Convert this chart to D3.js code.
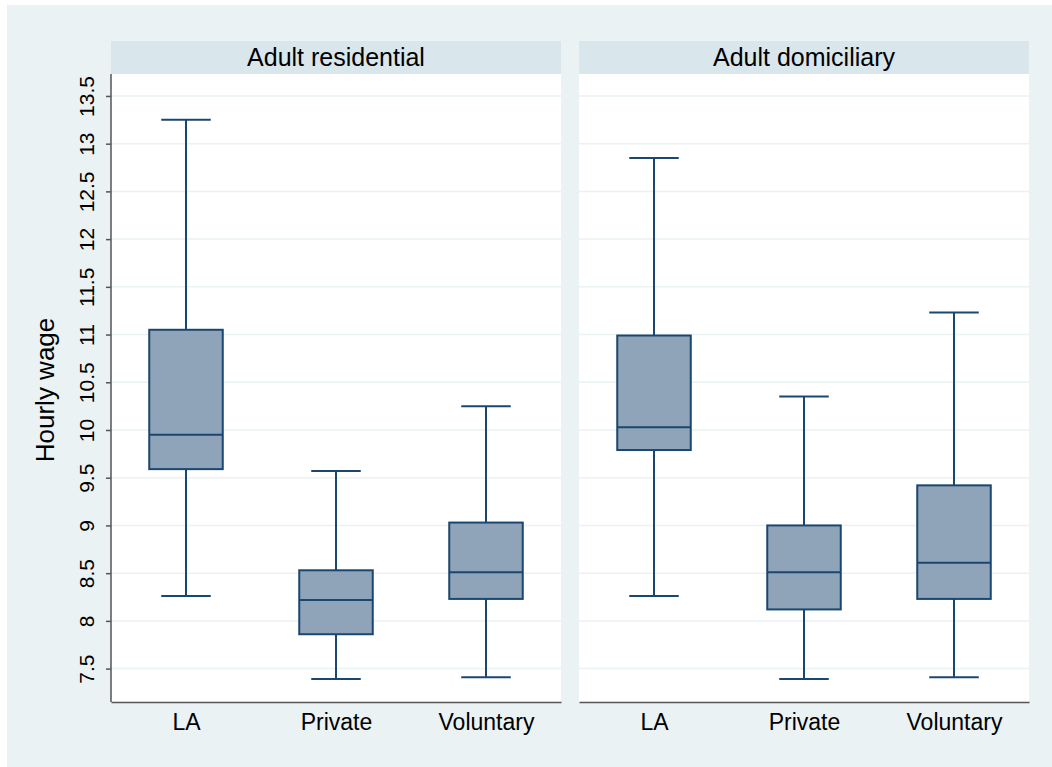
<!DOCTYPE html>
<html>
<head>
<meta charset="utf-8">
<script src="https://cdn.jsdelivr.net/npm/d3@7"></script>
<style>
  body { margin: 0; background: #fff; }
  text { font-family: "Liberation Sans", Arial, sans-serif; fill: #000; }
</style>
</head>
<body>
<div id="chart"></div>
<script>
// panels and categories
var panels = ["Adult residential", "Adult domiciliary"];
var sectors = ["LA", "Private", "Voluntary"];
var yTicks = [7.5, 8, 8.5, 9, 9.5, 10, 10.5, 11, 11.5, 12, 12.5, 13, 13.5];

// box stats per panel, in sector order: [lower whisker, q1, median, q3, upper whisker]
var residentialStats = [
    [8.26, 9.59, 9.95, 11.05, 13.25],
    [7.39, 7.86, 8.22, 8.53, 9.57],
    [7.41, 8.23, 8.51, 9.03, 10.25]
];
var domiciliaryStats = [
    [8.26, 9.79, 10.03, 10.99, 12.85],
    [7.39, 8.12, 8.51, 9.00, 10.35],
    [7.41, 8.23, 8.61, 9.42, 11.23]
];

var chart = {
    svgWidth: 1052,
    svgHeight: 767,
    panelLeft: [111, 579],
    panelWidth: 450,
    stripTop: 41,
    plotTop: 74,
    plotBottom: 702,
    navy: "#1a476f",
    boxFill: "#8fa4b8",
    bg: "#eaf2f3",
    strip: "#d9e6eb"
};

var svg = d3.select("#chart").append("svg")
    .attr("width", chart.svgWidth)
    .attr("height", chart.svgHeight);

// outer graph region
svg.append("rect")
    .attr("x", 7).attr("y", 5)
    .attr("width", chart.svgWidth - 7)
    .attr("height", chart.svgHeight - 5)
    .attr("fill", chart.bg);

var yScale = d3.scaleLinear()
    .domain([7.15, 13.73])
    .range([chart.plotBottom, chart.plotTop]);

var xScale = d3.scalePoint()
    .domain(sectors)
    .range([0, chart.panelWidth])
    .padding(0.5);

var step = xScale.step();
var boxW = step * 0.49;
var capW = step * 0.33;

var allStats = [residentialStats, domiciliaryStats];

panels.forEach(function(name, p) {
    var g = svg.append("g")
        .attr("transform", "translate(" + chart.panelLeft[p] + ",0)");

    // strip header
    g.append("rect")
        .attr("x", 0).attr("y", chart.stripTop)
        .attr("width", chart.panelWidth)
        .attr("height", chart.plotTop - chart.stripTop)
        .attr("fill", chart.strip);
    g.append("text")
        .attr("x", chart.panelWidth / 2)
        .attr("y", chart.stripTop + 25)
        .attr("text-anchor", "middle")
        .style("font-size", "25px")
        .text(name);

    // plot region
    g.append("rect")
        .attr("x", 0).attr("y", chart.plotTop)
        .attr("width", chart.panelWidth)
        .attr("height", chart.plotBottom - chart.plotTop)
        .attr("fill", "#fff");

    // gridlines
    g.selectAll("line.grid").data(yTicks).enter().append("line")
        .attr("class", "grid")
        .attr("x1", 0).attr("x2", chart.panelWidth)
        .attr("y1", d => yScale(d)).attr("y2", d => yScale(d))
        .attr("stroke", chart.bg)
        .attr("stroke-width", 1.5);

    var data = allStats[p].map(function(s, i) {
        return {sector: sectors[i], lo: s[0], q1: s[1], med: s[2], q3: s[3], hi: s[4]};
    });

    var boxes = g.selectAll("g.box").data(data).enter().append("g")
        .attr("class", "box")
        .attr("transform", d => "translate(" + xScale(d.sector) + ",0)");

    // whiskers
    boxes.append("line")
        .attr("x1", 0).attr("x2", 0)
        .attr("y1", d => yScale(d.hi)).attr("y2", d => yScale(d.q3))
        .attr("stroke", chart.navy).attr("stroke-width", 2);
    boxes.append("line")
        .attr("x1", 0).attr("x2", 0)
        .attr("y1", d => yScale(d.q1)).attr("y2", d => yScale(d.lo))
        .attr("stroke", chart.navy).attr("stroke-width", 2);
    boxes.append("line")
        .attr("x1", -capW / 2).attr("x2", capW / 2)
        .attr("y1", d => yScale(d.hi)).attr("y2", d => yScale(d.hi))
        .attr("stroke", chart.navy).attr("stroke-width", 2);
    boxes.append("line")
        .attr("x1", -capW / 2).attr("x2", capW / 2)
        .attr("y1", d => yScale(d.lo)).attr("y2", d => yScale(d.lo))
        .attr("stroke", chart.navy).attr("stroke-width", 2);

    // box and median
    boxes.append("rect")
        .attr("x", -boxW / 2).attr("width", boxW)
        .attr("y", d => yScale(d.q3))
        .attr("height", d => yScale(d.q1) - yScale(d.q3))
        .attr("fill", chart.boxFill)
        .attr("stroke", chart.navy).attr("stroke-width", 2);
    boxes.append("line")
        .attr("x1", -boxW / 2).attr("x2", boxW / 2)
        .attr("y1", d => yScale(d.med)).attr("y2", d => yScale(d.med))
        .attr("stroke", chart.navy).attr("stroke-width", 2);

    // x axis
    var xAxis = d3.axisBottom(xScale).tickSize(0).tickPadding(12);
    var xg = g.append("g")
        .attr("transform", "translate(0," + chart.plotBottom + ")")
        .call(xAxis);
    xg.select(".domain").attr("stroke", "#555").attr("stroke-width", 1.5);
    xg.selectAll("text")
        .style("font-size", "23px")
        .attr("fill", "#000");

    // y axis only on the first panel
    if (p === 0) {
        var yAxis = d3.axisLeft(yScale)
            .tickValues(yTicks)
            .tickSize(5)
            .tickSizeOuter(0)
            .tickFormat(d3.format("~g"));
        var yg = g.append("g").call(yAxis);
        yg.select(".domain")
            .attr("stroke", "#555").attr("stroke-width", 1.5)
            .attr("d", "M0," + chart.plotBottom + "V" + chart.plotTop);
        yg.selectAll(".tick line").attr("stroke", "#555").attr("stroke-width", 1.5);
        yg.selectAll("text")
            .style("font-size", "21px")
            .attr("fill", "#000")
            .attr("x", 0).attr("dy", null)
            .attr("text-anchor", "middle")
            .attr("transform", "translate(-17,0) rotate(-90)");
    }
});

// y axis title
svg.append("text")
    .attr("transform", "translate(54,390) rotate(-90)")
    .attr("text-anchor", "middle")
    .style("font-size", "26px")
    .text("Hourly wage");
</script>
</body>
</html>
